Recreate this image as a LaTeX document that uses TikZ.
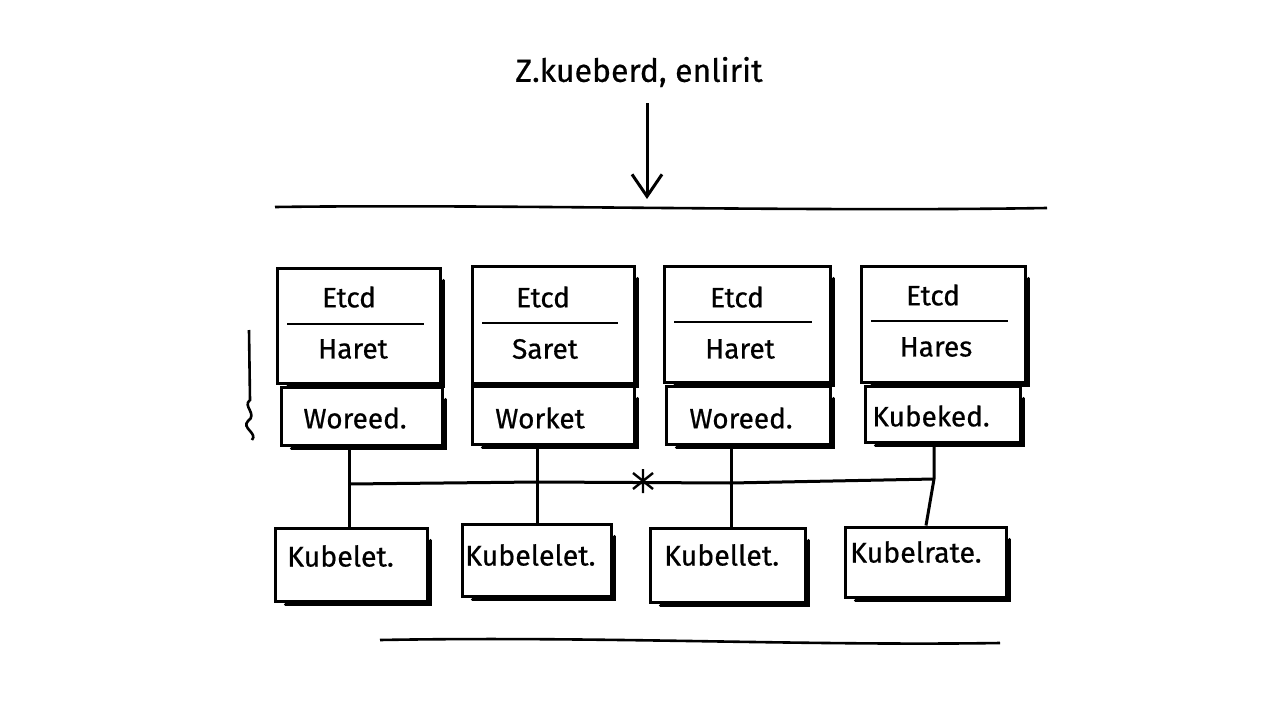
\documentclass[tikz,border=0pt]{standalone}
\usepackage{fontspec}
\setmainfont{Fira Sans}[FakeBold=0.6]
\newfontfamily\handfont{Fira Sans}[FakeBold=0.6]
\usetikzlibrary{fit,arrows.meta}
\tikzset{
  box/.style={draw, line width=3pt, inner sep=0pt, fill=white},
  lbl/.style={inner sep=0pt, font=\handfont\fontsize{28}{32}\selectfont},
  klbl/.style={inner sep=0pt, anchor=west, font=\handfont\fontsize{28.5}{33}\selectfont},
  ttl/.style={inner sep=0pt, font=\handfont\fontsize{32}{36}\selectfont},
  wire/.style={line width=3pt},
  thin wire/.style={line width=2.6pt},
  shade/.style={line width=3.4pt, line cap=round}
}
\begin{document}
\begin{tikzpicture}[x=1pt,y=-1pt]
\useasboundingbox[fill=white] (0,0) rectangle (1280,720);
% title and arrow
\node[ttl] (title) at (639,72) {Z.kueberd, enlirit};
\coordinate (a1) at (647,199);
\draw[wire, -{Straight Barb[length=22pt,width=30pt,line width=3pt]}] ([yshift=-16pt]title.south -| a1) -- (a1);
% top and bottom lines
\coordinate (L1) at (275,207); \coordinate (L2) at (1047,208);
\draw[thin wire] (L1) .. controls (500,204) and (800,212) .. (L2);
\coordinate (B1) at (380,640); \coordinate (B2) at (1000,643);
\draw[thin wire] (B1) .. controls (600,636) and (800,646) .. (B2);
% boxes
\node[box, fit={(277,268) (440,383)}] (m1) {};
\node[box, fit={(472,266) (634,383)}] (m2) {};
\node[box, fit={(664,266) (830,382)}] (m3) {};
\node[box, fit={(861,266) (1025,382)}] (m4) {};
\node[box, fit={(281,387) (442,445)}] (w1) {};
\node[box, fit={(472,386) (634,444)}] (w2) {};
\node[box, fit={(666,386) (830,444)}] (w3) {};
\node[box, fit={(865,386) (1020,442)}] (w4) {};
\node[box, fit={(275,528) (427,601)}] (k1) {};
\node[box, fit={(462,524) (611,596)}] (k2) {};
\node[box, fit={(650,528) (805,602)}] (k3) {};
\node[box, fit={(845,527) (1006,597)}] (k4) {};
% shadows
\foreach \n in {m1,m2,m3,m4,w1,w2,w3,w4,k1,k2,k3,k4}{
  \draw[shade] ([xshift=12pt,yshift=-2pt]\n.south west) -- ([xshift=2pt,yshift=-2pt]\n.south east) -- ([xshift=2pt,yshift=-14pt]\n.north east);
}
% dividers
\draw[thin wire] (287,324) -- (424,324);
\draw[thin wire] (482,323) -- (618,323);
\draw[thin wire] (674,322) -- (812,322);
\draw[thin wire] (871,321) -- (1008,321);
% labels
\node[lbl] (e1) at (349,297) {Etcd};
\node[lbl] (h1) at (353,349) {Haret};
\node[lbl] (e2) at (543,297) {Etcd};
\node[lbl] (h2) at (545,349) {Saret};
\node[lbl] (e3) at (737,297) {Etcd};
\node[lbl] (h3) at (740,349) {Haret};
\node[lbl] (e4) at (933,295) {Etcd};
\node[lbl] (h4) at (936,347) {Hares};
\node[lbl] (t1) at (355,418) {Woreed.};
\node[lbl] (t2) at (540,418) {Worket};
\node[lbl] (t3) at (741,418) {Woreed.};
\node[lbl] (t4) at (931,416) {Kubeked.};
\node[klbl] (u1) at (287,556) {Kubelet.};
\node[klbl] (u2) at (465,555) {Kubelelet.};
\node[klbl] (u3) at (664,555) {Kubellet.};
\node[klbl] (u4) at (850,552) {Kubelrate.};
% bus
\coordinate (j1) at (349,484);
\coordinate (j2) at (537,482);
\coordinate (j3) at (731,483);
\coordinate (j4) at (934,479);
\draw[wire] (j1) -- (j2) -- (j3) -- (j4);
\draw[wire] (w1.south -| j1) -- (k1.north -| j1);
\draw[wire] (w2.south -| j2) -- (k2.north -| j2);
\draw[wire] (w3.south -| j3) -- (k3.north -| j3);
\draw[wire] (w4.south -| j4) -- (j4) -- ([xshift=-8pt]k4.north -| j4);
% star on bus
\coordinate (s) at (643,481);
\draw[line width=2.4pt] ([shift={(0,-12)}]s) -- ([shift={(0,12)}]s)
  ([shift={(-10,-8)}]s) -- ([shift={(10,8)}]s)
  ([shift={(-10,8)}]s) -- ([shift={(10,-8)}]s);
% left brace
\draw[thin wire] (249,330) -- (250,400)
  .. controls (242,406) and (258,414) .. (248,421)
  .. controls (241,428) and (258,433) .. (252,440);
\end{tikzpicture}
\end{document}
